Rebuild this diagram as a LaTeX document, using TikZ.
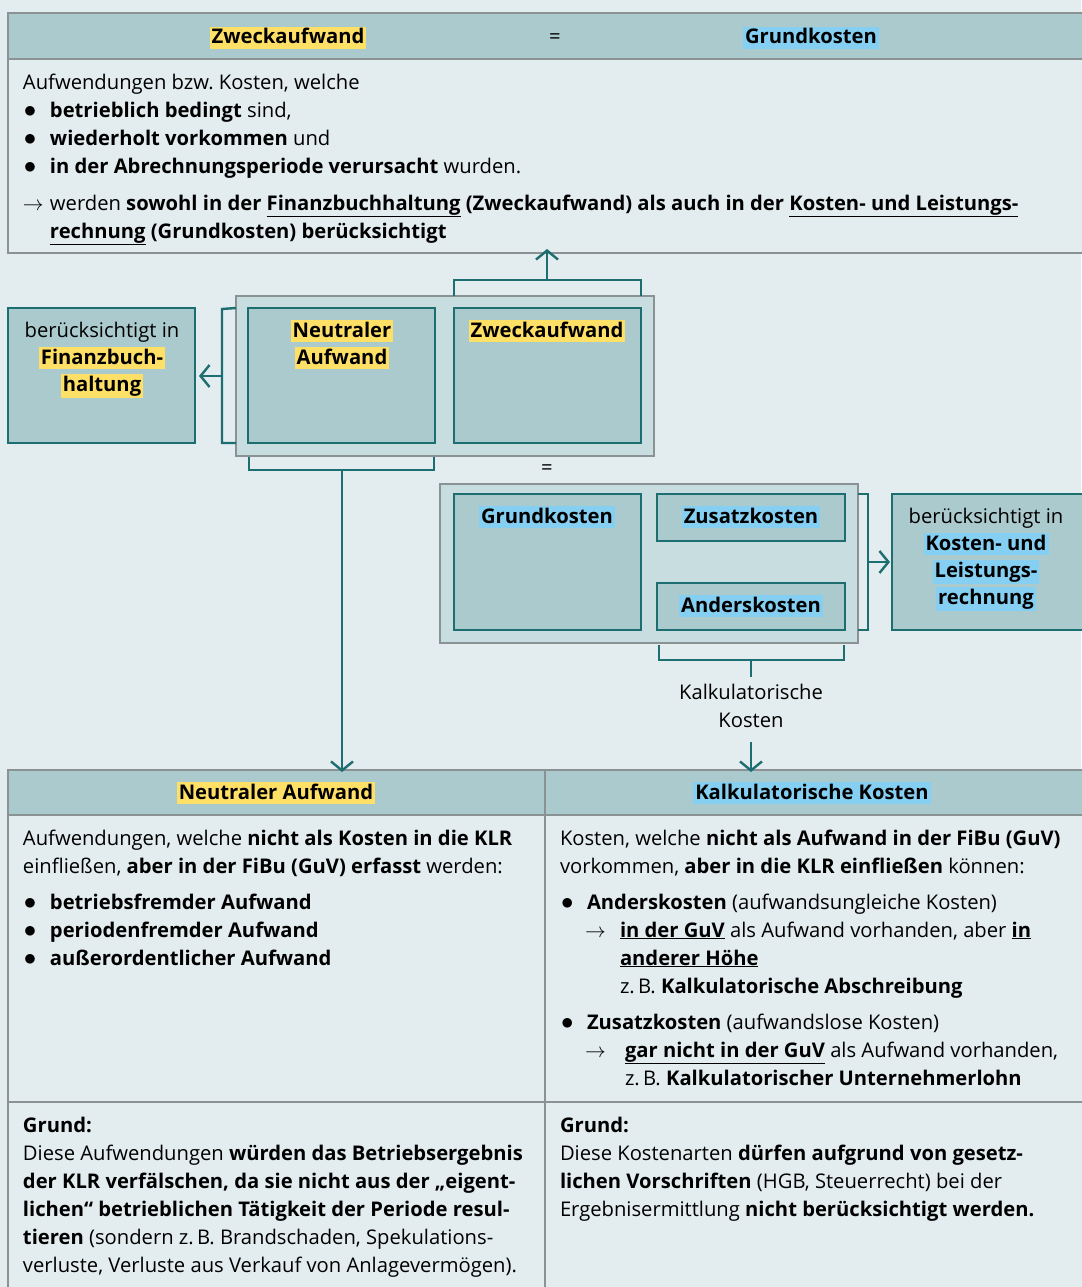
\documentclass[tikz,border=0pt]{standalone}
\usepackage{fontspec}
\setmainfont{Open Sans}
\usetikzlibrary{arrows.meta}
\definecolor{bgc}{HTML}{E3ECEE}
\definecolor{hdrc}{HTML}{AACACD}
\definecolor{lightc}{HTML}{C8DDE0}
\definecolor{tealc}{HTML}{1D6E70}
\definecolor{greyc}{HTML}{8A9294}
\definecolor{hly}{HTML}{FFE066}
\definecolor{hlb}{HTML}{84CFF2}
\newcommand\hly[1]{{\fboxsep=2pt\colorbox{hly}{\rule[-3pt]{0pt}{18pt}#1}}}
\newcommand\hlb[1]{{\fboxsep=2pt\colorbox{hlb}{\rule[-3pt]{0pt}{18pt}#1}}}
\newcommand\fs{\rule{0pt}{20pt}}
\newcommand\bul{\makebox[27pt][l]{\hspace{1pt}{\fontsize{25}{28}\selectfont$\bullet$}}}
\newcommand\arrw[1]{\makebox[#1][l]{\fontsize{22}{28}\selectfont$\rightarrow$}}
\frenchspacing
\begin{document}
\begin{tikzpicture}[x=1pt,y=-1pt,
  every node/.style={inner sep=0pt, outer sep=0pt},
  font=\fontsize{20.2}{28}\selectfont,
  greybox/.style={draw=greyc, line width=1.3pt, anchor=north west},
  tealbox/.style={draw=tealc, line width=1.3pt, fill=hdrc, anchor=north west},
  brk/.style={draw=tealc, line width=2.4pt},
  arr/.style={draw=tealc, line width=2.4pt, -{Straight Barb[length=9pt,width=22pt,line width=2.4pt]}},
  txt/.style={anchor=north west, align=left},
  ctxt/.style={anchor=base, align=center},
  mtxt/.style={anchor=north, align=center}]
\useasboundingbox (0,0) rectangle (1081,1287);
\fill[bgc] (0,0) rectangle (1081,1287);

% ---------- top box ----------
\node[greybox, fill=hdrc, minimum width=1090pt, minimum height=46pt] (tophdr) at (8,13) {};
\node[greybox, fill=bgc, minimum width=1090pt, minimum height=194pt] (topbody) at (8,59) {};
\node[ctxt] (t1) at (288,44) {\hly{\textbf{Zweckaufwand}}};
\node[ctxt] (t2) at (555,44) {=};
\node[ctxt] (t3) at (811,44) {\hlb{\textbf{Grundkosten}}};
\node[txt] (topt) at (23,69) {\fs Aufwendungen bzw.\ Kosten, welche\\
\bul\textbf{betrieblich bedingt} sind,\\
\bul\textbf{wiederholt vorkommen} und\\
\bul\textbf{in der Abrechnungsperiode verursacht} wurden.\\[9pt]
\arrw{27pt}werden \textbf{sowohl in der \underline{Finanzbuchhaltung} (Zweckaufwand) als auch in der \underline{Kosten- und Leistungs-}}\\
\hspace*{27pt}\textbf{\underline{rechnung} (Grundkosten) berücksichtigt}};

% ---------- container 1 ----------
\node[greybox, fill=lightc, minimum width=418pt, minimum height=160pt] (c1) at (236,296) {};
\node[tealbox, minimum width=187pt, minimum height=135pt] (na) at (248,308) {};
\node[tealbox, minimum width=187pt, minimum height=135pt] (zw) at (454,308) {};
\node[tealbox, minimum width=187pt, minimum height=135pt] (fibu) at (8,308) {};
\node[mtxt] (nat) at (342,317) {\fs\hly{\textbf{Neutraler}}\\[-1pt]\hly{\textbf{Aufwand}}};
\node[ctxt] (zwt) at (547,337) {\hly{\textbf{Zweckaufwand}}};
\node[mtxt] (fibut) at (102,317) {\fs berücksichtigt in\\[-1pt]\hly{\textbf{Finanzbuch-}}\\[-1pt]\hly{\textbf{haltung}}};

% top bracket
\draw[brk] (zw.north west |- c1.north) -- ++(0,-16) -| (zw.north east |- c1.north);
\coordinate (tb) at (547,280);
\draw[arr] (tb) -- ([yshift=4pt]tb |- topbody.south);
% left bracket
\draw[brk] (c1.west |- na.north) -- (222,309) -- (222,443) -- (c1.west |- na.south);
\coordinate (lb) at (222,376);
\draw[arr] (lb) -- ([xshift=4pt]fibu.east |- lb);
% bottom bracket under na
\draw[brk] (249,457) -- (249,470) -- (434,470) -- (434,457);
\coordinate (bb) at (342,470);

\node[ctxt] (eq2) at (547,474) {=};

% ---------- container 2 ----------
\node[greybox, fill=lightc, minimum width=418pt, minimum height=159pt] (c2) at (440,484) {};
\node[tealbox, minimum width=187pt, minimum height=136pt] (gk) at (454,494) {};
\node[tealbox, minimum width=188pt, minimum height=47pt] (zk) at (657,494) {};
\node[tealbox, minimum width=188pt, minimum height=47pt] (ak) at (657,583) {};
\node[tealbox, minimum width=198pt, minimum height=136pt] (klr) at (892,494) {};
\node[ctxt] (gkt) at (547,523) {\hlb{\textbf{Grundkosten}}};
\node[ctxt] (zkt) at (751,523) {\hlb{\textbf{Zusatzkosten}}};
\node[ctxt] (akt) at (751,612) {\hlb{\textbf{Anderskosten}}};
\node[mtxt] (klrt) at (986,503) {\fs berücksichtigt in\\[-1pt]\hlb{\textbf{Kosten- und}}\\[-1pt]\hlb{\textbf{Leistungs-}}\\[-1pt]\hlb{\textbf{rechnung}}};

% right bracket
\draw[brk] (c2.east |- gk.north) -- (868,494) -- (868,630) -- (c2.east |- gk.south);
\coordinate (rb) at (868,562);
\draw[arr] (rb) -- ([xshift=-2pt]klr.west |- rb);
% bottom bracket under zk/ak
\draw[brk] (659,645) -- (659,660) -- (844,660) -- (844,645);
\coordinate (bb2) at (751,660);
\node[mtxt] (kkl) at (751,679) {\fs Kalkulatorische\\Kosten};
\coordinate (kkltop) at (751,677);
\coordinate (kklbot) at (751,742);
\draw[brk] (bb2) -- (kkltop);

% ---------- bottom table ----------
\node[greybox, fill=hdrc, minimum width=537pt, minimum height=45pt] (nahdr) at (8,770) {};
\node[greybox, fill=hdrc, minimum width=545pt, minimum height=45pt] (kkhdr) at (545,770) {};
\node[greybox, fill=bgc, minimum width=537pt, minimum height=287pt] (nabody) at (8,815) {};
\node[greybox, fill=bgc, minimum width=545pt, minimum height=287pt] (kkbody) at (545,815) {};
\node[greybox, fill=bgc, minimum width=537pt, minimum height=195pt] (nagrund) at (8,1102) {};
\node[greybox, fill=bgc, minimum width=545pt, minimum height=195pt] (kkgrund) at (545,1102) {};

\draw[arr] (bb) -- ([yshift=-2pt]bb |- nahdr.north);
\draw[arr] (kklbot) -- ([yshift=-2pt]kklbot |- kkhdr.north);

\node[ctxt] (nah) at (276,799) {\hly{\textbf{Neutraler Aufwand}}};
\node[ctxt] (kkh) at (812,799) {\hlb{\textbf{Kalkulatorische Kosten}}};

\node[txt] (nat2) at (23,825) {\fs Aufwendungen, welche \textbf{nicht als Kosten in die KLR}\\
einfließen, \textbf{aber in der FiBu (GuV) erfasst} werden:\\[8pt]
\bul\textbf{betriebsfremder Aufwand}\\
\bul\textbf{periodenfremder Aufwand}\\
\bul\textbf{außerordentlicher Aufwand}};

\node[txt] (kkt2) at (560,825) {\fs Kosten, welche \textbf{nicht als Aufwand in der FiBu (GuV)}\\
vorkommen, \textbf{aber in die KLR einfließen} können:\\[8pt]
\bul\textbf{Anderskosten} (aufwandsungleiche Kosten)\\
\hspace*{25pt}\arrw{35pt}\textbf{\underline{in der GuV}} als Aufwand vorhanden, aber \textbf{\underline{in}}\\
\hspace*{60pt}\textbf{\underline{anderer Höhe}}\\
\hspace*{60pt}z.\,B. \textbf{Kalkulatorische Abschreibung}\\[8pt]
\bul\textbf{Zusatzkosten} (aufwandslose Kosten)\\
\hspace*{25pt}\arrw{40pt}\textbf{\underline{gar nicht in der GuV}} als Aufwand vorhanden,\\
\hspace*{65pt}z.\,B. \textbf{Kalkulatorischer Unternehmerlohn}};

\node[txt] (nag) at (23,1112) {\fontsize{20.2}{28.4}\selectfont\fs\textbf{Grund:}\\
Diese Aufwendungen \textbf{würden das Betriebsergebnis}\\
\textbf{der KLR verfälschen, da sie nicht aus der „eigent-}\\
\textbf{lichen“ betrieblichen Tätigkeit der Periode resul-}\\
\textbf{tieren} (sondern z.\,B. Brandschaden, Spekulations-\\
verluste, Verluste aus Verkauf von Anlagevermögen).};

\node[txt] (kkg) at (560,1112) {\fontsize{20.2}{28.4}\selectfont\fs\textbf{Grund:}\\
Diese Kostenarten \textbf{dürfen aufgrund von gesetz-}\\
\textbf{lichen Vorschriften} (HGB, Steuerrecht) bei der\\
Ergebnisermittlung \textbf{nicht berücksichtigt werden.}};
\end{tikzpicture}
\end{document}
